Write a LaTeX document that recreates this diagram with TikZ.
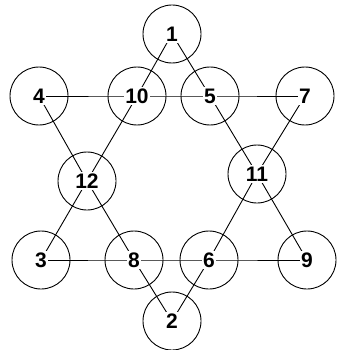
\documentclass[tikz,border=0pt]{standalone}
\usepackage{fontspec}
\setmainfont{Liberation Sans}
\begin{document}
\begin{tikzpicture}[x=1pt,y=-1pt,
  ring/.style={draw,circle,minimum size=58pt,inner sep=0pt,line width=0.9pt},
  lbl/.style={fill=white,inner sep=1.5pt,font=\fontsize{21}{21}\selectfont\bfseries},
  edge/.style={line width=0.9pt}]
\useasboundingbox (0,0) rectangle (350,350);
\foreach \n/\x/\y in {1/172/34,4/39/96,10/137/96,5/210/96,7/305/96,12/87/181,11/257/174,3/41/260,8/134/260,6/209/260,9/307/260,2/172/321}
  \coordinate (c\n) at (\x,\y);
\draw[edge] (c4) -- (c10) -- (c5) -- (c7);
\draw[edge] (c3) -- (c8) -- (c6) -- (c9);
\draw[edge] (c1) -- (c10) -- (c12) -- (c3);
\draw[edge] (c1) -- (c5) -- (c11) -- (c9);
\draw[edge] (c4) -- (c12) -- (c8) -- (c2);
\draw[edge] (c7) -- (c11) -- (c6) -- (c2);
\foreach \n in {1,4,10,5,7,12,11,3,8,6,9,2}{
  \node[ring] (r\n) at (c\n) {};
  \node[lbl] (t\n) at (c\n) {\n};
}
\end{tikzpicture}
\end{document}
